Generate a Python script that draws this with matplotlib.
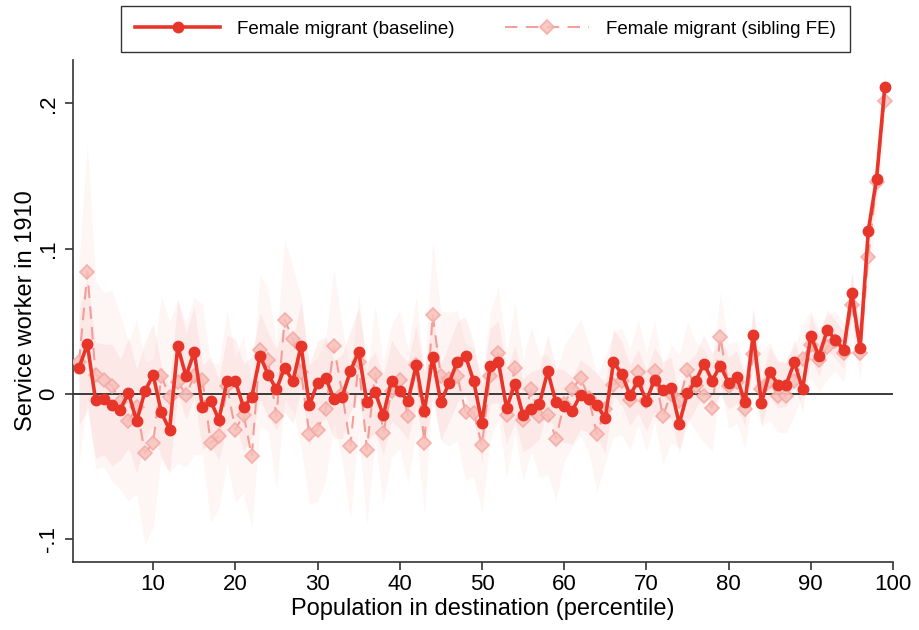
'''
Service worker in 1910 by destination population percentile:
baseline vs sibling fixed-effects estimates for female migrants.
'''

import matplotlib
matplotlib.use( 'Agg' )
import matplotlib.pyplot as plt

# percentiles 1..99
pctile = list( range( 1, 100 ) )

# baseline point estimates
base = [ 0.018, 0.034, -0.0045, -0.004, -0.008, -0.011, 0.0005, -0.019, 0.0015, 0.013,
         -0.013, -0.025, 0.0325, 0.012, 0.0287, -0.0094, -0.005, -0.018, 0.009, 0.0085,
         -0.0094, -0.0025, 0.026, 0.013, 0.003, 0.018, 0.0085, 0.033, -0.008, 0.0074,
         0.011, -0.004, -0.002, 0.0155, 0.029, -0.006, 0.001, -0.015, 0.009, 0.0016,
         -0.005, 0.0195, -0.012, 0.025, -0.006, 0.0074, 0.022, 0.026, 0.0085, -0.020,
         0.019, 0.022, -0.010, 0.0067, -0.015, -0.0106, -0.007, 0.0154, -0.006, -0.0087,
         -0.0117, -0.0007, -0.004, -0.008, -0.017, 0.0216, 0.0138, -0.001, 0.0085, -0.005,
         0.0097, 0.0023, 0.0039, -0.0207, 0.0005, 0.0085, 0.0207, 0.009, 0.0193, 0.0074,
         0.0113, -0.006, 0.0407, -0.0064, 0.015, 0.0062, 0.0062, 0.0216, 0.0032, 0.0395,
         0.026, 0.0437, 0.0372, 0.0303, 0.069, 0.0315, 0.1124, 0.148, 0.211 ]

# sibling FE point estimates
sib = [ 0.022, 0.084, 0.013, 0.0097, 0.0055, -0.006, -0.019, -0.009, -0.041, -0.034,
        0.012, -0.002, 0.008, -0.0007, 0.012, 0.0097, -0.034, -0.029, 0.005, -0.025,
        -0.0145, -0.043, 0.030, 0.023, -0.0156, 0.051, 0.0377, 0.015, -0.028, -0.025,
        -0.0106, 0.0326, 0.0, -0.036, 0.022, -0.0386, 0.0138, -0.027, 0.002, 0.0097,
        -0.0156, 0.02, -0.034, 0.0545, 0.012, 0.01, 0.0124, -0.0129, -0.0133, -0.0356,
        0.0124, 0.028, -0.0145, 0.018, -0.018, 0.003, -0.0156, -0.0145, -0.031, -0.0069,
        0.003, 0.011, -0.003, -0.028, -0.0106, 0.0062, 0.0085, -0.0041, 0.0147, -0.0053,
        0.0154, -0.0156, 0.0, -0.005, 0.016, 0.005, -0.0018, -0.0099, 0.039, 0.005,
        0.008, -0.0106, 0.0276, 0.003, 0.0086, -0.0018, -0.0018, 0.0085, 0.024, 0.0338,
        0.023, 0.032, 0.036, 0.028, 0.0614, 0.028, 0.094, 0.146, 0.2014 ]

# half-width of 95% CI, baseline
base_ci = [ 0.040, 0.045, 0.040, 0.038, 0.042, 0.035, 0.038, 0.036, 0.034, 0.035,
            0.032, 0.030, 0.033, 0.030, 0.031, 0.029, 0.030, 0.028, 0.031, 0.029,
            0.030, 0.028, 0.030, 0.029, 0.028, 0.031, 0.029, 0.030, 0.028, 0.029,
            0.028, 0.027, 0.029, 0.028, 0.030, 0.027, 0.028, 0.027, 0.028, 0.026,
            0.027, 0.028, 0.026, 0.029, 0.026, 0.027, 0.028, 0.027, 0.026, 0.027,
            0.026, 0.028, 0.025, 0.026, 0.025, 0.026, 0.024, 0.025, 0.024, 0.025,
            0.023, 0.024, 0.023, 0.022, 0.024, 0.023, 0.022, 0.021, 0.022, 0.021,
            0.022, 0.020, 0.021, 0.020, 0.021, 0.019, 0.020, 0.019, 0.020, 0.018,
            0.018, 0.017, 0.019, 0.016, 0.017, 0.016, 0.015, 0.016, 0.015, 0.015,
            0.014, 0.014, 0.013, 0.013, 0.014, 0.012, 0.012, 0.011, 0.010 ]

# half-width of 95% CI, sibling FE
sib_ci = [ 0.070, 0.088, 0.065, 0.060, 0.066, 0.060, 0.055, 0.060, 0.063, 0.058,
           0.055, 0.052, 0.056, 0.050, 0.054, 0.052, 0.055, 0.050, 0.053, 0.050,
           0.054, 0.050, 0.052, 0.049, 0.051, 0.055, 0.050, 0.052, 0.048, 0.050,
           0.049, 0.053, 0.047, 0.050, 0.048, 0.052, 0.047, 0.049, 0.046, 0.048,
           0.046, 0.047, 0.049, 0.050, 0.045, 0.046, 0.045, 0.047, 0.044, 0.046,
           0.044, 0.046, 0.043, 0.045, 0.042, 0.043, 0.042, 0.041, 0.043, 0.040,
           0.039, 0.040, 0.038, 0.040, 0.037, 0.036, 0.037, 0.035, 0.036, 0.034,
           0.035, 0.033, 0.034, 0.032, 0.033, 0.031, 0.032, 0.030, 0.031, 0.029,
           0.028, 0.027, 0.028, 0.026, 0.027, 0.025, 0.025, 0.024, 0.024, 0.023,
           0.022, 0.022, 0.021, 0.020, 0.021, 0.019, 0.019, 0.018, 0.017 ]

RED = '#E8352A'
PINK = '#F0908A'

plt.rcParams['font.family'] = [ 'Liberation Sans', 'DejaVu Sans' ]

fig = plt.figure( figsize = ( 9.19, 6.3 ), dpi = 100 )
ax = fig.add_axes( [ 0.0794, 0.108, 0.8923, 0.797 ] )

# confidence bands
sib_lo = [ v - h for v, h in zip( sib, sib_ci ) ]
sib_hi = [ v + h for v, h in zip( sib, sib_ci ) ]
base_lo = [ v - h for v, h in zip( base, base_ci ) ]
base_hi = [ v + h for v, h in zip( base, base_ci ) ]
ax.fill_between( pctile, sib_lo, sib_hi, color = RED, alpha = 0.045, lw = 0, zorder = 1 )
ax.fill_between( pctile, base_lo, base_hi, color = RED, alpha = 0.065, lw = 0, zorder = 1 )

# zero line
ax.axhline( 0, color = '#3a3a3a', lw = 1.4, zorder = 2 )

# point estimates
ax.plot( pctile, sib, color = PINK, lw = 1.5, ls = ( 0, ( 6, 4 ) ), alpha = 0.85,
         marker = 'D', ms = 7.5, mfc = '#F8C0BB', mec = '#F4A8A2', mew = 1.2, zorder = 3,
         label = 'Female migrant (sibling FE)' )
ax.plot( pctile, base, color = RED, lw = 2.6, marker = 'o', ms = 7.5,
         mfc = RED, mec = RED, zorder = 4, label = 'Female migrant (baseline)' )

# axes decorations
ax.set_xlim( 0.25, 100 )
ax.set_ylim( -0.116, 0.230 )
ax.set_xticks( range( 10, 101, 10 ) )
ax.set_yticks( [ -0.1, 0, 0.1, 0.2 ] )
ax.set_yticklabels( [ '-.1', '0', '.1', '.2' ], rotation = 90, va = 'center' )
ax.tick_params( labelsize = 16, length = 6, width = 1.2, color = '#333333' )
ax.tick_params( axis = 'y', pad = 4 )
ax.tick_params( axis = 'x', pad = 3 )
for s in ( 'top', 'right' ):
    ax.spines[s].set_visible( False )
for s in ( 'left', 'bottom' ):
    ax.spines[s].set_linewidth( 1.2 )
    ax.spines[s].set_color( '#333333' )

ax.set_xlabel( 'Population in destination (percentile)', fontsize = 17, labelpad = 2 )
ax.set_ylabel( 'Service worker in 1910', fontsize = 17, labelpad = 1 )

# legend above plot, baseline first
h, l = ax.get_legend_handles_labels()
leg = fig.legend( h[::-1], l[::-1], ncol = 2, loc = 'center', bbox_to_anchor = ( 0.5285, 0.954 ),
                  fontsize = 13.5, frameon = True, fancybox = False, edgecolor = 'black',
                  handlelength = 4.5, handletextpad = 0.9, columnspacing = 2.7, borderpad = 0.75 )
leg.get_frame().set_linewidth( 1.0 )

fig.savefig( 'out.png', dpi = 100 )
